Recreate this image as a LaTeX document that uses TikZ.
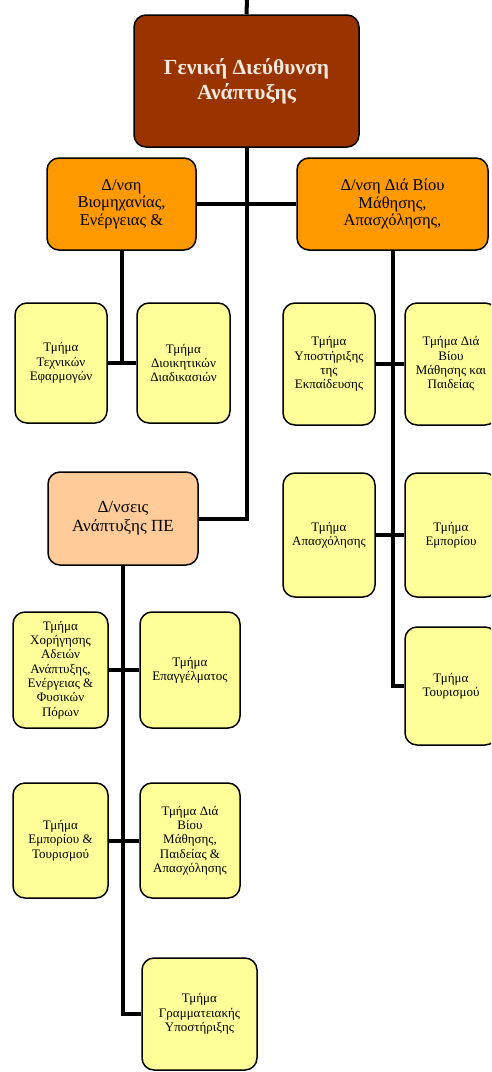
\documentclass[tikz,border=0pt]{standalone}
\usepackage{fontspec}
\setmainfont{Liberation Serif}
\usepackage{tikz}
\usetikzlibrary{positioning}
\definecolor{gdBrown}{HTML}{993300}
\definecolor{gdText}{HTML}{F5E8DE}
\definecolor{dirOrange}{HTML}{FF9900}
\definecolor{pePeach}{HTML}{FFCC99}
\definecolor{deptYellow}{HTML}{FFFF99}

\tikzset{
  orgbox/.style={rectangle, rounded corners=12pt, draw=black, line width=1.5pt, align=center, inner sep=2pt},
  topbox/.style={orgbox, fill=gdBrown, text=gdText, font=\fontsize{21.5}{25}\selectfont\bfseries},
  dirbox/.style={orgbox, fill=dirOrange, font=\fontsize{16.5}{17.5}\selectfont},
  pebox/.style={orgbox, fill=pePeach, font=\fontsize{17}{19}\selectfont},
  deptbox/.style={orgbox, fill=deptYellow, font=\fontsize{13}{14.3}\selectfont},
  link/.style={draw=black, line width=4pt}
}

\begin{document}
\begin{tikzpicture}[x=1pt, y=-1pt]
  \useasboundingbox (0,0) rectangle (491,1072);
  \clip (0,0) rectangle (491,1072);

  % general directorate
  \node[topbox, minimum width=225pt, minimum height=132pt] (gda) at (246.5,81) {Γενική Διεύθυνση\\Ανάπτυξης};

  % directorates
  \node[dirbox, minimum width=149pt, minimum height=92pt] (dvio) at (121.5,204) {Δ/νση\\Βιομηχανίας,\\Ενέργειας \&};
  \node[dirbox, minimum width=191pt, minimum height=92pt] (ddbm) at (392.5,204) {Δ/νση Διά Βίου\\Μάθησης,\\Απασχόλησης,};
  \node[pebox, minimum width=150pt, minimum height=93pt] (dpe) at (123,518.5) {Δ/νσεις\\Ανάπτυξης ΠΕ};

  % departments of Δ/νση Βιομηχανίας
  \node[deptbox, minimum width=92pt, minimum height=120pt] (ttex) at (61,363) {Τμήμα\\Τεχνικών\\Εφαρμογών};
  \node[deptbox, minimum width=93pt, minimum height=120pt] (tdiad) at (183.5,363) {Τμήμα\\Διοικητικών\\Διαδικασιών};

  % departments of Δ/νση Διά Βίου Μάθησης
  \node[deptbox, minimum width=92pt, minimum height=122pt] (tyek) at (329,364) {Τμήμα\\Υποστήριξης\\της\\Εκπαίδευσης};
  \node[deptbox, minimum width=92pt, minimum height=122pt] (tdbm) at (451,364) {Τμήμα Διά\\Βίου\\Μάθησης και\\Παιδείας};
  \node[deptbox, minimum width=92pt, minimum height=124pt] (tapas) at (329,535) {Τμήμα\\Απασχόλησης};
  \node[deptbox, minimum width=92pt, minimum height=124pt] (temp) at (451,535) {Τμήμα\\Εμπορίου};
  \node[deptbox, minimum width=92pt, minimum height=118pt] (ttour) at (451,686) {Τμήμα\\Τουρισμού};

  % departments of Δ/νσεις Ανάπτυξης ΠΕ
  \node[deptbox, minimum width=95pt, minimum height=116pt] (tchor) at (60.5,670) {Τμήμα\\Χορήγησης\\Αδειών\\Ανάπτυξης,\\Ενέργειας \&\\Φυσικών\\Πόρων};
  \node[deptbox, minimum width=100pt, minimum height=116pt] (tepag) at (190,670) {Τμήμα\\Επαγγέλματος};
  \node[deptbox, minimum width=95pt, minimum height=115pt] (tet) at (60.5,840.5) {Τμήμα\\Εμπορίου \&\\Τουρισμού};
  \node[deptbox, minimum width=100pt, minimum height=115pt] (tdbmpa) at (190,840.5) {Τμήμα Διά\\Βίου\\Μάθησης,\\Παιδείας \&\\Απασχόλησης};
  \node[deptbox, minimum width=115pt, minimum height=112pt] (tgram) at (199.5,1014) {Τμήμα\\Γραμματειακής\\Υποστήριξης};

  % connectors
  \coordinate (topin) at (247,0);
  \draw[link] (topin) -- (gda.north);
  \draw[link] (gda.south) |- (dpe.east);
  \draw[link] (dvio.east) -- (ddbm.west);
  \draw[link] (dvio.south) -- (dvio.south |- ttex.east);
  \draw[link] (ttex.east) -- (tdiad.west);
  \draw[link] (ddbm.south) |- (ttour.west);
  \draw[link] (tyek.east) -- (tdbm.west);
  \draw[link] (tapas.east) -- (temp.west);
  \draw[link] (dpe.south) |- (tgram.west);
  \draw[link] (tchor.east) -- (tepag.west);
  \draw[link] (tet.east) -- (tdbmpa.west);
\end{tikzpicture}
\end{document}
